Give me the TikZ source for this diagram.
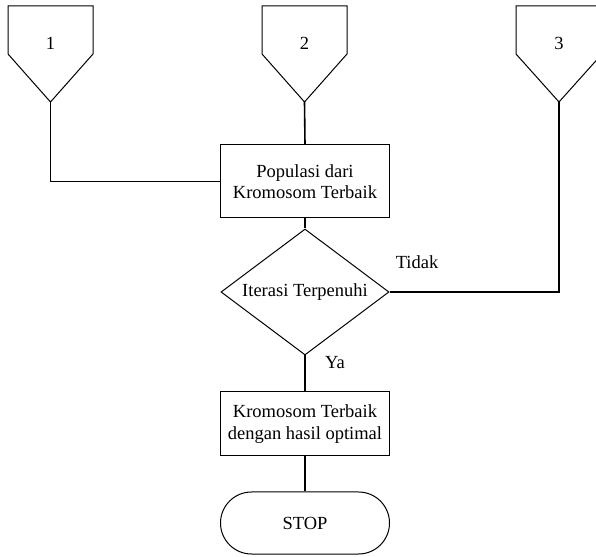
\documentclass[tikz,border=0pt]{standalone}
\usepackage{fontspec}
\setmainfont{Liberation Serif}
\usetikzlibrary{shapes.geometric}

\begin{document}
\begin{tikzpicture}[x=1pt, y=1pt, font=\fontsize{18.5}{21.5}\selectfont,
        shape line/.style={line width=1pt},
        link/.style={line width=1.6pt},
        process/.style={shape line, draw, rectangle, minimum width=169pt, align=center, inner sep=0pt}]
        \useasboundingbox (0,0) rectangle (596,556);
        % off-page connectors
        \draw[shape line] (8,550) -- (93,550) -- (93,502) -- (50.5,454) -- (8,502) -- cycle;
        \draw[shape line] (262,550) -- (347,550) -- (347,502) -- (304.5,454) -- (262,502) -- cycle;
        \draw[shape line] (516,550) -- (602,550) -- (602,502) -- (559,454) -- (516,502) -- cycle;
        \node (n1) at (50.5,513) {1};
        \node (n2) at (304.5,513) {2};
        \node (n3) at (559,513) {3};
        \coordinate (c1) at (50.5,454);
        \coordinate (c2) at (304.5,454);
        \coordinate (c3) at (559,454);
        % flow
        \node[process, minimum height=73pt] (pop) at (305,374.5) {Populasi dari\\Kromosom Terbaik};
        \node[shape line, draw, diamond, aspect=1.33, minimum width=168pt, minimum height=126pt, inner sep=0pt] (iter) at (305,264) {Iterasi Terpenuhi};
        \node[process, minimum height=64pt] (best) at (305,132) {Kromosom Terbaik\\dengan hasil optimal};
        \node[shape line, draw, rectangle, rounded corners=31pt, minimum width=169pt, minimum height=62pt] (stop) at (305,33) {STOP};
        \node (tidak) at (417,294) {Tidak};
        \node (ya) at (335,193) {Ya};
        \draw[link] (c1) |- (pop.west);
        \draw[link] (c2) -- (pop.north);
        \draw[link] (pop.south) -- (iter.north);
        \draw[link] (iter.east) -| (c3);
        \draw[link] (iter.south) -- (best.north);
        \draw[link] (best.south) -- (stop.north);
\end{tikzpicture}
\end{document}
